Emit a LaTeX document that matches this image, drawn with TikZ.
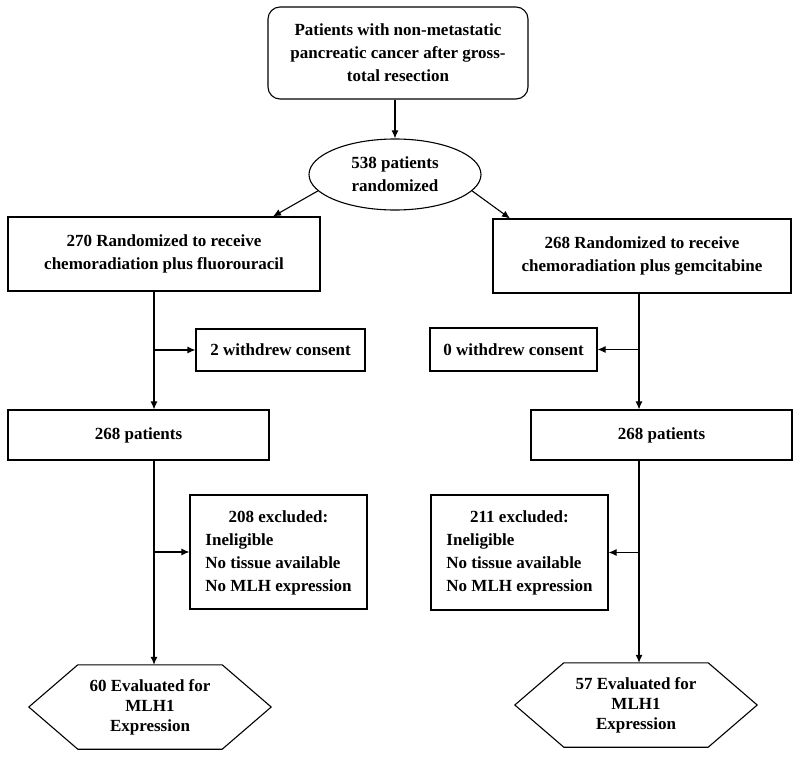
\documentclass[tikz,border=0pt]{standalone}
\usepackage{fontspec}
\setmainfont{Liberation Serif}
\usetikzlibrary{arrows.meta,positioning,shapes}

\begin{document}
\begin{tikzpicture}[x = 1pt, y = -1pt,
  every node/.style = {font=\fontsize{17}{23}\selectfont\bfseries, align=center, inner sep=0pt},
  box/.style = {draw, line width=1.1pt, rectangle},
  hexnode/.style = {font=\fontsize{17}{20}\selectfont\bfseries, minimum width=242, minimum height=84},
  arr/.style = {-{Latex[length=8pt,width=7pt]}, line width=1.1pt}]
\useasboundingbox (0,0) rectangle (800,758);
\node[box, rounded corners=12pt, minimum width=260, minimum height=92] (top) at (398,53) {Patients with non-metastatic\\pancreatic cancer after gross-\\total resection};
\node[draw, ellipse, line width=1.1pt, minimum width=172, minimum height=71] (rand) at (395,174.5) {538 patients\\randomized};
\node[box, minimum width=312, minimum height=74] (chemoL) at (164,254) {270 Randomized to receive\\chemoradiation plus fluorouracil};
\node[box, minimum width=298, minimum height=74] (chemoR) at (642,256) {268 Randomized to receive\\chemoradiation plus gemcitabine};
\node[box, minimum width=169, minimum height=42] (withL) at (280.5,350) {2 withdrew consent};
\node[box, minimum width=167, minimum height=43] (withR) at (513.5,349.5) {0 withdrew consent};
\node[box, minimum width=261, minimum height=50] (patL) at (138.5,435) {268 patients};
\node[box, minimum width=261, minimum height=50] (patR) at (661.5,435) {268 patients};
\node[box, minimum width=177, minimum height=114] (exclL) at (278.5,552) {\begin{tabular}{@{}l@{}}\multicolumn{1}{@{}c@{}}{208 excluded:}\\ Ineligible\\ No tissue available\\ No MLH expression\end{tabular}};
\node[box, minimum width=177, minimum height=115] (exclR) at (519.5,552.5) {\begin{tabular}{@{}l@{}}\multicolumn{1}{@{}c@{}}{211 excluded:}\\ Ineligible\\ No tissue available\\ No MLH expression\end{tabular}};
\node[hexnode] (evalL) at (150,707) {60 Evaluated for\\MLH1\\Expression};
\node[hexnode] (evalR) at (636,705) {57 Evaluated for\\MLH1\\Expression};
\foreach \h in {evalL, evalR}
  \draw[line width=1.1pt] (\h.west) -- ([xshift=49pt]\h.north west) -- ([xshift=-49pt]\h.north east) -- (\h.east) -- ([xshift=-49pt]\h.south east) -- ([xshift=49pt]\h.south west) -- cycle;
% connectors
\coordinate (spineL) at (154,0);
\coordinate (spineR) at (639,0);
\draw[arr] (top.south -| rand.north) -- (rand.north);
\draw[arr] (rand.192) -- ([xshift=109pt]chemoL.north);
\draw[arr] (rand.-12) -- ([xshift=-132pt]chemoR.north);
\draw[arr] (chemoL.south -| spineL) -- (patL.north -| spineL);
\draw[arr] (withL.west -| spineL) -- (withL.west);
\draw[arr] (patL.south -| spineL) -- (evalL.north -| spineL);
\draw[arr] (exclL.west -| spineL) -- (exclL.west);
\draw[arr] (chemoR.south -| spineR) -- (patR.north -| spineR);
\draw[arr] (withR.east -| spineR) -- (withR.east);
\draw[arr] (patR.south -| spineR) -- (evalR.north -| spineR);
\draw[arr] (exclR.east -| spineR) -- (exclR.east);
\end{tikzpicture}
\end{document}
